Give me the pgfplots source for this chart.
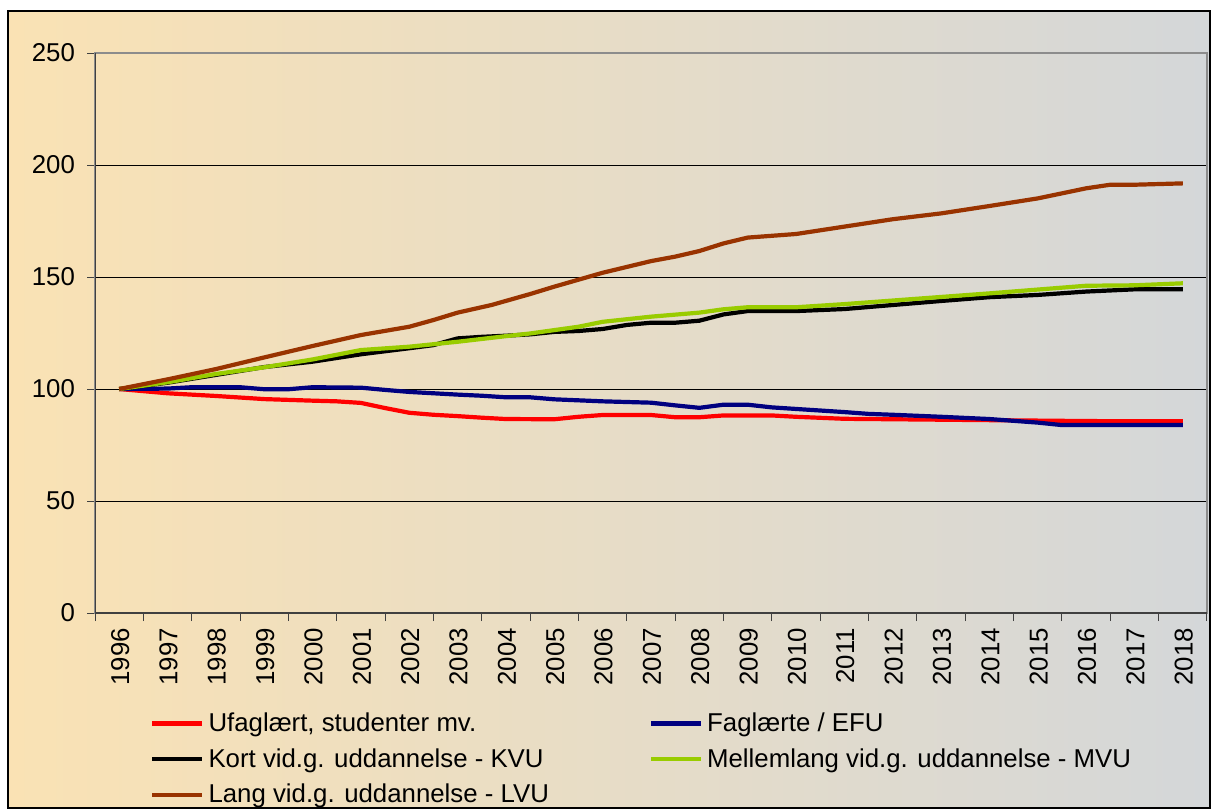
\documentclass[border=0pt]{standalone}
\usepackage{pgfplots}
\pgfplotsset{compat=1.18}
\usepackage{fontspec}
\setmainfont{Liberation Sans}
\definecolor{bgL}{RGB}{250,226,180}
\definecolor{bgR}{RGB}{212,215,217}
\definecolor{cRed}{RGB}{255,0,0}
\definecolor{cBlue}{RGB}{0,0,128}
\definecolor{cGreen}{RGB}{153,204,0}
\definecolor{cBrown}{RGB}{153,51,0}
\newcommand{\cf}{\fontsize{12.9}{15.5}\selectfont}
\begin{document}
\begin{tikzpicture}[font=\cf]
\useasboundingbox (0pt,0pt) rectangle (606.5pt,-405pt);
\shade[left color=bgL,right color=bgR] (4pt,-5.5pt) rectangle (605pt,-404pt);
\draw[black,line width=0.6pt] (4pt,-5.5pt) rectangle (605pt,-404pt);
\begin{axis}[
  at={(47.5pt,-306.5pt)}, anchor=south west,
  scale only axis, width=556pt, height=280pt,
  xmin=1995.5, xmax=2018.5, ymin=0, ymax=250,
  ytick={0,50,...,250},
  xtick={1995.5,1996.5,...,2018.5}, xticklabels={},
  extra x ticks={1996,1997,...,2018},
  extra x tick labels={1996,1997,1998,1999,2000,2001,2002,2003,2004,2005,2006,2007,2008,2009,2010,2011,2012,2013,2014,2015,2016,2017,2018},
  extra x tick style={tick style={draw=none}, ymajorgrids=false, xmajorgrids=false},
  xticklabel style={rotate=90, anchor=east, font=\cf, xshift=0pt, yshift=-0.5pt},
  yticklabel style={font=\cf, xshift=-2.5pt},
  /pgf/number format/assume math mode=true,
  tick align=outside, xtick pos=bottom, ytick pos=left,
  major tick length=4pt,
  tick style={black!75, line width=0.5pt},
  ymajorgrids, grid style={black, line width=0.5pt},
  axis line style={draw=black!45, line width=0.6pt},
  legend columns=2, legend cell align=left,
  legend image code/.code={\draw[#1] (0pt,0pt) -- (25pt,0pt);},
  legend style={at={(0.044,-0.163)}, anchor=north west, draw=none, fill=none, font=\cf,
    /tikz/every even column/.append style={column sep=48pt}, row sep=3pt},
  every axis plot/.append style={line width=2.1pt, line join=round},
]
\addplot[cRed] coordinates {(1996,100)(1997,98.1)(1998,96.9)(1999,95.5)(2000,94.8)(2000.5,94.5)(2001,93.8)(2001.5,91.5)(2002,89.4)(2002.5,88.5)(2003,87.9)(2003.5,87.2)(2004,86.6)(2005,86.5)(2005.5,87.6)(2006,88.4)(2007,88.4)(2007.5,87.4)(2008,87.4)(2008.5,88.2)(2009.5,88.2)(2010,87.6)(2011,86.7)(2012,86.5)(2013,86.3)(2014,86.1)(2015,85.9)(2016,85.7)(2017,85.6)(2018,85.6)};
\addlegendentry{Ufaglært, studenter mv.}
\addplot[cBlue] coordinates {(1996,100)(1997,100.2)(1997.5,100.8)(1998.5,100.8)(1999,99.9)(1999.5,99.9)(2000,100.8)(2001,100.6)(2001.5,99.6)(2002,98.7)(2002.5,98.1)(2003,97.5)(2003.5,97.0)(2004,96.3)(2004.5,96.3)(2005,95.4)(2006,94.5)(2007,93.9)(2007.5,92.7)(2008,91.6)(2008.5,93.0)(2009,93.0)(2009.5,91.8)(2010,91.1)(2011,89.7)(2011.5,88.9)(2012,88.5)(2013,87.6)(2014,86.6)(2015,85.0)(2015.5,83.9)(2018,83.9)};
\addlegendentry{Faglærte / EFU}
\addplot[black] coordinates {(1996,100)(1997,102.8)(1998,106.3)(1999,109.8)(2000,112.2)(2001,115.5)(2002,118.2)(2002.5,119.6)(2003,122.6)(2003.5,123.3)(2004,123.8)(2004.5,124.4)(2005,125.5)(2005.5,125.9)(2006,126.8)(2006.5,128.6)(2007,129.6)(2007.5,129.6)(2008,130.5)(2008.5,133.3)(2009,134.8)(2010,134.8)(2011,135.7)(2012,137.5)(2013,139.3)(2014,141)(2015,142)(2016,143.5)(2017,144.5)(2018,144.5)};
\addlegendentry{Kort vid.g. uddannelse - KVU}
\addplot[cGreen] coordinates {(1996,100)(1997,103)(1998,106.7)(1999,109.7)(2000,113.2)(2001,117.4)(2002,118.9)(2003,121.1)(2004,123.6)(2004.5,124.8)(2005,126.3)(2005.5,127.8)(2006,130)(2007,132.3)(2008,134.1)(2008.5,135.6)(2009,136.5)(2010,136.5)(2011,137.9)(2012,139.5)(2013,141.1)(2014,142.7)(2015,144.4)(2016,146.1)(2017,146.3)(2018,147.2)};
\addlegendentry{Mellemlang vid.g. uddannelse - MVU}
\addplot[cBrown] coordinates {(1996,100)(1997,104.3)(1998,108.9)(1999,114.1)(2000,119.2)(2001,124.1)(2002,127.8)(2002.5,130.8)(2003,134.1)(2003.7,137.5)(2004.5,142.4)(2005,145.7)(2006,151.9)(2007,157.1)(2007.5,159.1)(2008,161.6)(2008.5,165)(2009,167.6)(2010,169.2)(2011,172.5)(2012,175.8)(2013,178.4)(2014,181.7)(2015,185.1)(2016,189.6)(2016.5,191.2)(2017,191.2)(2018,191.8)};
\addlegendentry{Lang vid.g. uddannelse - LVU}
\draw[black!75, line width=0.6pt] (rel axis cs:0,1) -- (rel axis cs:0,0) -- (rel axis cs:1,0);
\end{axis}
\end{tikzpicture}
\end{document}
